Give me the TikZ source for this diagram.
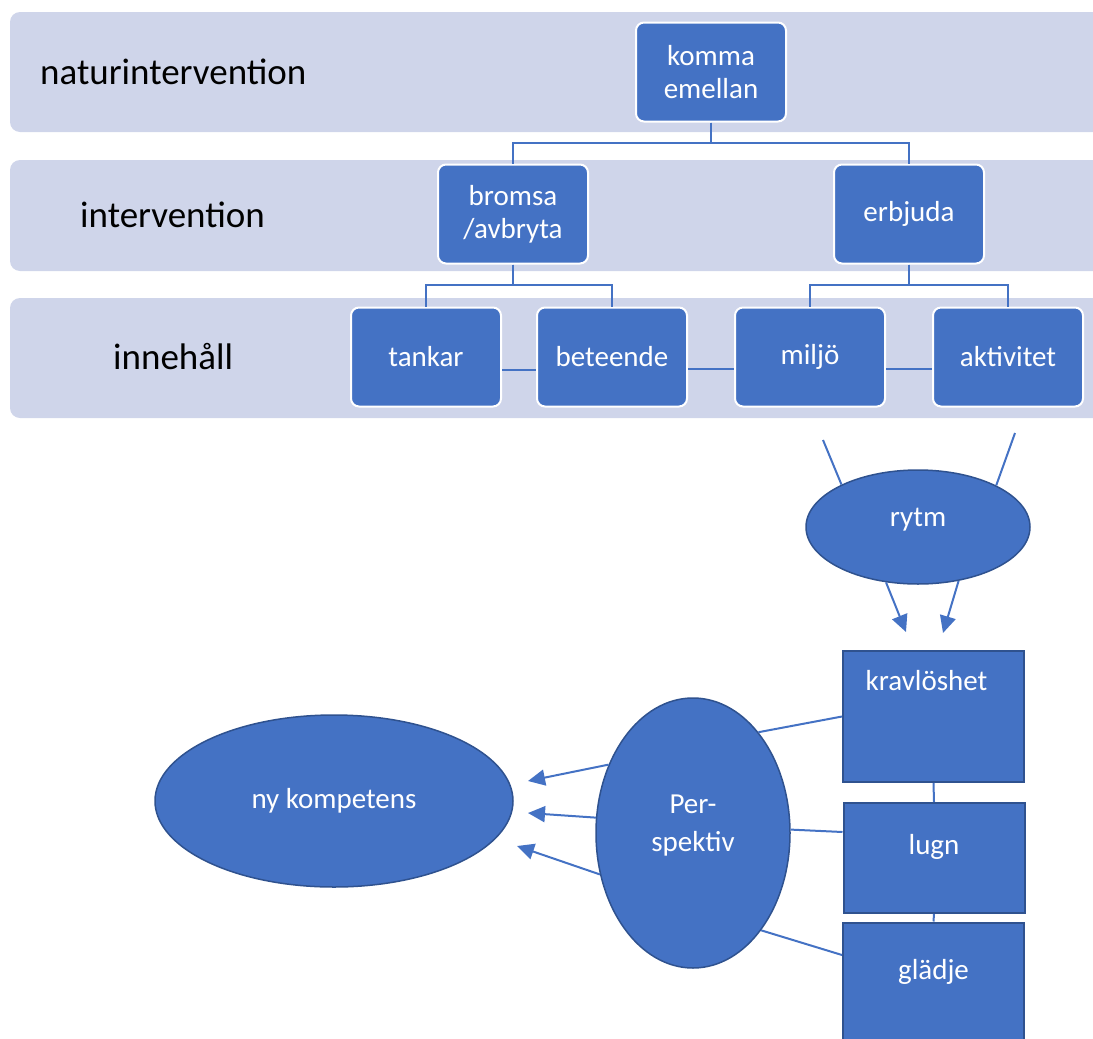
\documentclass[tikz,border=0pt]{standalone}
\usepackage{fontspec}
\setmainfont{Carlito}
\usetikzlibrary{shapes.geometric,arrows.meta}
\definecolor{bandgray}{HTML}{CFD5EA}
\definecolor{officeblue}{HTML}{4472C4}
\definecolor{edgeblue}{HTML}{2F528F}
\tikzset{
  band/.style={fill=bandgray,rounded corners=10pt},
  rowlabel/.style={anchor=west,inner sep=0pt,font=\fontsize{37}{44}\selectfont},
  boxtext/.style={text=white,font=\fontsize{29}{33}\selectfont},
  rbox/.style={boxtext,fill=officeblue,draw=white,line width=2pt,rounded corners=8pt,
    minimum width=150pt,minimum height=99pt,align=center},
  sqbox/.style={boxtext,fill=officeblue,draw=edgeblue,line width=2pt,minimum width=181pt},
  oval/.style={ellipse,boxtext,fill=officeblue,draw=edgeblue,line width=1.5pt,inner sep=0pt,
    align=center},
  conn/.style={draw=officeblue,line width=2pt},
  arr/.style={conn,-{Triangle[length=17pt,width=16pt]}},
}
\begin{document}
\begin{tikzpicture}[x=1pt,y=-1pt]
\useasboundingbox (0,0) rectangle (1093,1039);

% Bands
\fill[band] (10,12) rectangle (1130,132);
\fill[band] (10,160) rectangle (1130,271);
\fill[band] (10,298) rectangle (1130,418);

% Row labels
\node[rowlabel] (natur) at (40,72) {naturintervention};
\node[rowlabel] (interv) at (80,215) {intervention};
\node[rowlabel] (inneh) at (113,357) {innehåll};

% Hierarchy
\node[rbox] (komma) at (711,72) {komma\\emellan};
\node[rbox] (bromsa) at (513,214) {bromsa\\/avbryta};
\node[rbox] (erbjuda) at (909,214) {erbjuda};
\node[rbox] (tankar) at (426,357) {tankar};
\node[rbox] (beteende) at (612,357) {beteende};
\node[rbox] (miljo) at (810,357) {miljö};
\node[rbox] (aktivitet) at (1008,357) {aktivitet};

\draw[conn] (komma.south) -- ++(0,20) -| (bromsa.north);
\draw[conn] (komma.south) -- ++(0,20) -| (erbjuda.north);
\draw[conn] (bromsa.south) -- ++(0,20) -| (tankar.north);
\draw[conn] (bromsa.south) -- ++(0,20) -| (beteende.north);
\draw[conn] (erbjuda.south) -- ++(0,20) -| (miljo.north);
\draw[conn] (erbjuda.south) -- ++(0,20) -| (aktivitet.north);

% Content links
\draw[conn] ([yshift=-13pt]tankar.east) -- ([yshift=-13pt]beteende.west);
\draw[conn] ([yshift=-12pt]beteende.east) -- ([yshift=-12pt]miljo.west);
\draw[conn] ([yshift=-12pt]miljo.east) -- ([yshift=-12pt]aktivitet.west);

% Rytm
\node[oval,minimum width=224pt,minimum height=114pt,text height=17pt,text depth=19pt] (rytm) at (918,527) {rytm};
\coordinate (rytmL) at (823,440);
\coordinate (rytmR) at (1015,433);
\coordinate (downL) at (906,632);
\coordinate (downR) at (943,633);
\draw[conn] (rytmL) -- (rytm.151);
\draw[conn] (rytmR) -- (rytm.28);
\draw[arr] (rytm.240) -- (downL);
\draw[arr] (rytm.307) -- (downR);

% Qualities
\node[sqbox,minimum height=131pt,
  label={[boxtext,anchor=north,xshift=-7pt,yshift=-17pt]north:kravlöshet}] (krav) at (933.5,716.5) {};
\node[sqbox,minimum height=110pt,text height=20pt,text depth=28pt] (lugn) at (934,858) {lugn};
\node[sqbox,minimum height=131pt,text height=20pt,text depth=38pt] (gladje) at (933.5,988) {glädje};
\draw[conn] (krav.south) -- (lugn.north);
\draw[conn] (lugn.south) -- (gladje.north);

% Perspektiv and ny kompetens
\node[oval,minimum width=194pt,minimum height=270pt,
  label={[boxtext,align=center,font=\fontsize{29}{38}\selectfont,yshift=7pt]center:Per-\\spektiv}] (persp) at (693,833) {};
\node[oval,minimum width=358pt,minimum height=172pt] (nykomp) at (334,801) {ny kompetens};

\draw[conn] (persp.57) -- (krav.west);
\draw[conn] (persp.2) -- ([yshift=26pt]lugn.west);
\draw[conn] (persp.305) -- ([yshift=33pt]gladje.west);

\coordinate (tipA) at (528,781);
\coordinate (tipB) at (528,813);
\coordinate (tipC) at (517,846);
\draw[arr] (persp.141) -- (tipA);
\draw[arr] (persp.171) -- (tipB);
\draw[arr] (persp.204) -- (tipC);
\end{tikzpicture}
\end{document}
